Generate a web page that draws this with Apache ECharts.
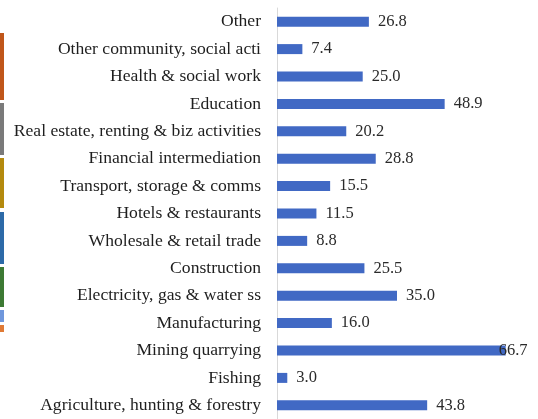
<!DOCTYPE html>
<html>
<head>
<meta charset="utf-8">
<script src="https://cdn.jsdelivr.net/npm/echarts@6/dist/echarts.min.js"></script>
<style>
html,body{margin:0;padding:0;background:#fff;}
#c{width:538px;height:419px;}
</style>
</head>
<body>
<div id="c"></div>
<script>
const categories = [
  "Other",
  "Other community, social acti",
  "Health & social work",
  "Education",
  "Real estate, renting & biz activities",
  "Financial intermediation",
  "Transport, storage & comms",
  "Hotels & restaurants",
  "Wholesale & retail trade",
  "Construction",
  "Electricity, gas & water ss",
  "Manufacturing",
  "Mining quarrying",
  "Fishing",
  "Agriculture, hunting & forestry"
];
const values = [26.8, 7.4, 25.0, 48.9, 20.2, 28.8, 15.5, 11.5, 8.8, 25.5, 35.0, 16.0, 66.7, 3.0, 43.8];

// cropped strip of a neighbouring graphic on the left edge
const stripColors = ["#c0561a", "#7a7a7a", "#b48a0e", "#2d6aa8", "#3d7a34", "#6f97dc", "#e07a35"];
const stripRanges = [[33,100],[103,155],[158,208],[212,264],[267,307],[310,322],[325,332]];

const maxVal = Math.max(...values);
const chart = echarts.init(document.getElementById('c'), null, {renderer: 'canvas'});
const font = "'Liberation Serif', 'Times New Roman', serif";

chart.setOption({
  animation: false,
  backgroundColor: '#ffffff',
  grid: {left: 277, right: 21, top: 8, height: 415, containLabel: false},
  xAxis: {
    type: 'value', min: 0, max: 70, show: false
  },
  yAxis: {
    type: 'category',
    data: categories,
    inverse: true,
    axisLine: {show: true, lineStyle: {color: '#d9d9d9', width: 1}},
    axisTick: {show: false},
    axisLabel: {color: '#1e1e1e', fontFamily: font, fontSize: 17.6, margin: 16}
  },
  series: [{
    type: 'bar',
    barWidth: 10,
    itemStyle: {color: '#4169c4'},
    label: {
      show: true, position: 'right', distance: 9,
      color: '#2a2a2a', fontFamily: font, fontSize: 16.5,
      formatter: p => p.value.toFixed(1)
    },
    data: values.map(v => v === maxVal ? {value: v, label: {offset: [-16, 0]}} : v)
  }],
  graphic: stripColors.map((c, i) => ({
    type: 'rect', silent: true,
    shape: {x: 0, y: stripRanges[i][0], width: 4, height: stripRanges[i][1] - stripRanges[i][0]},
    style: {fill: c}
  }))
});
</script>
</body>
</html>
